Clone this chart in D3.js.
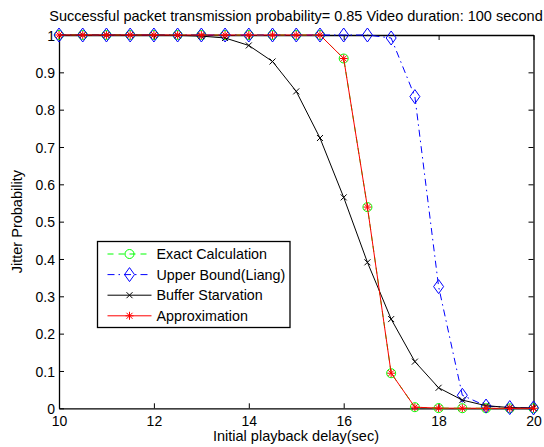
<!DOCTYPE html>
<html>
<head>
<meta charset="utf-8">
<script src="https://cdn.jsdelivr.net/npm/d3@7"></script>
<style>
	body { margin: 0; background: #fff; }
	svg { display: block; font-family: "Liberation Sans", Arial, sans-serif; }
	text { fill: #000; }
</style>
</head>
<body>
<svg></svg>
<script>
// playback delays (sec)
const delays = [10, 10.5, 11, 11.5, 12, 12.5, 13, 13.5, 14, 14.5, 15, 15.5, 16, 16.5, 17, 17.5, 18, 18.5, 19, 19.5, 20]

const exactCalc = [1, 1, 1, 1, 1, 1, 1, 1, 1, 1, 1, 1, 0.937, 0.539, 0.094, 0.003, 0.0005, 0.0002, 0.0001, 0, 0]
const upperBound = [1, 1, 1, 1, 1, 1, 1, 1, 1, 1, 1, 1, 1, 1, 0.992, 0.835, 0.326, 0.035, 0.006, 0.002, 0.001]
const bufferStarvation = [1, 1, 1, 1, 1, 0.999, 0.997, 0.992, 0.972, 0.929, 0.849, 0.724, 0.565, 0.391, 0.239, 0.125, 0.055, 0.022, 0.007, 0.002, 0.001]
const approximation = [1, 1, 1, 1, 1, 1, 1, 1, 1, 1, 1, 1, 0.937, 0.539, 0.094, 0.003, 0.0005, 0.0002, 0.0001, 0, 0]

const xTicks = [10, 12, 14, 16, 18, 20]
const yTicks = [0, 0.1, 0.2, 0.3, 0.4, 0.5, 0.6, 0.7, 0.8, 0.9, 1]
const legendNames = ["Exact Calculation", "Upper Bound(Liang)", "Buffer Starvation", "Approximation"]

const svg = d3.select("svg")
	.attr("width", 544)
	.attr("height", 447)

const plotLeft = 59, plotRight = 533.5, plotTop = 35, plotBottom = 408.3

const xScale = d3.scaleLinear()
	.domain([10, 20])
	.range([plotLeft, plotRight])

const yScale = d3.scaleLinear()
	.domain([0, 1])
	.range([plotBottom, plotTop])

// axes: ticks point inward like matlab
const xAxis = svg.append("g")
	.attr("transform", `translate(0, ${plotBottom})`)
	.call(d3.axisBottom(xScale).tickValues(xTicks).tickSizeInner(-5).tickSizeOuter(0).tickFormat(d3.format("d")))

const xAxisTop = svg.append("g")
	.attr("transform", `translate(0, ${plotTop})`)
	.call(d3.axisTop(xScale).tickValues(xTicks).tickSizeInner(-5).tickSizeOuter(0).tickFormat(""))

const yAxis = svg.append("g")
	.attr("transform", `translate(${plotLeft}, 0)`)
	.call(d3.axisLeft(yScale).tickValues(yTicks).tickSizeInner(-5).tickSizeOuter(0).tickPadding(4).tickFormat(d => d === 0 || d === 1 ? d : d3.format(".1f")(d)))

const yAxisRight = svg.append("g")
	.attr("transform", `translate(${plotRight}, 0)`)
	.call(d3.axisRight(yScale).tickValues(yTicks).tickSizeInner(-5).tickSizeOuter(0).tickFormat(""))

svg.selectAll(".domain").attr("stroke", "#000").attr("stroke-width", 1.3)
svg.selectAll(".tick line").attr("stroke", "#000")
svg.selectAll(".tick text")
	.style("font-size", "14px")
	.style("font-family", "'Liberation Sans', Arial, sans-serif")
	.attr("fill", "#000")

// x labels sit a little lower, like matlab
xAxis.selectAll(".tick text").attr("y", 18).attr("dy", 0)
yAxis.selectAll(".tick text").attr("dy", "0.36em")

svg.append("text")
	.attr("x", 296)
	.attr("y", 21)
	.attr("text-anchor", "middle")
	.style("font-size", "14.5px")
	.text("Successful packet transmission probability= 0.85 Video duration: 100 second")

svg.append("text")
	.attr("x", 296)
	.attr("y", 441)
	.attr("text-anchor", "middle")
	.style("font-size", "14.5px")
	.text("Initial playback delay(sec)")

svg.append("text")
	.attr("transform", `translate(22, ${(plotTop + plotBottom) / 2}) rotate(-90)`)
	.attr("text-anchor", "middle")
	.style("font-size", "14.5px")
	.text("Jitter Probability")

const lineGenerator = d3.line()
	.x((d, i) => { return xScale(delays[i]) })
	.y((d, i) => { return yScale(d) })

const plot = svg.append("g")

// marker drawers
const markers = {
	circle: (g, color) => {
		g.append("circle").attr("r", 4.5).attr("fill", "none").attr("stroke", color).attr("stroke-width", 1)
	},
	diamond: (g, color) => {
		g.append("path").attr("d", "M0,-7L5,0L0,7L-5,0Z").attr("fill", "none").attr("stroke", color).attr("stroke-width", 1)
	},
	cross: (g, color) => {
		g.append("path").attr("d", "M-3,-3L3,3M-3,3L3,-3").attr("stroke", color).attr("stroke-width", 1)
	},
	star: (g, color) => {
		g.append("path").attr("d", "M-4,0L4,0M0,-4L0,4M-3,-3L3,3M-3,3L3,-3").attr("stroke", color).attr("stroke-width", 1)
	}
}

const series = [
	{ values: exactCalc, color: "#00ff00", dash: "6,5", marker: "circle" },
	{ values: upperBound, color: "#0000ff", dash: "7,4,1.5,4", marker: "diamond" },
	{ values: bufferStarvation, color: "#000000", dash: null, marker: "cross" },
	{ values: approximation, color: "#ff0000", dash: null, marker: "star" }
]

series.forEach(s => {
	plot.append("path")
		.datum(s.values)
		.attr("d", lineGenerator)
		.attr("fill", "none")
		.attr("stroke", s.color)
		.attr("stroke-width", 1)
		.attr("stroke-dasharray", s.dash)

	plot.selectAll(null)
		.data(s.values)
		.enter()
		.append("g")
		.attr("transform", (d, i) => { return `translate(${xScale(delays[i])}, ${yScale(d)})` })
		.each(function () { markers[s.marker](d3.select(this), s.color) })
})

// legend
const legend = svg.append("g")
	.attr("transform", "translate(97.5, 241.5)")

legend.append("rect")
	.attr("width", 192.5)
	.attr("height", 86)
	.attr("fill", "#fff")
	.attr("stroke", "#000")
	.attr("stroke-width", 1.3)

const legendRows = legend.selectAll("g.row")
	.data(series)
	.enter()
	.append("g")
	.attr("class", "row")
	.attr("transform", (d, i) => { return `translate(0, ${12.5 + i * 20.6})` })

legendRows
	.append("line")
	.attr("x1", 10)
	.attr("x2", 54)
	.attr("stroke", d => d.color)
	.attr("stroke-dasharray", d => d.dash)

legendRows
	.append("g")
	.attr("transform", "translate(32, 0)")
	.each(function (d) { markers[d.marker](d3.select(this), d.color) })

legendRows
	.append("text")
	.attr("x", 59)
	.attr("dy", "0.36em")
	.style("font-size", "14.3px")
	.text((d, i) => { return legendNames[i] })
</script>
</body>
</html>
